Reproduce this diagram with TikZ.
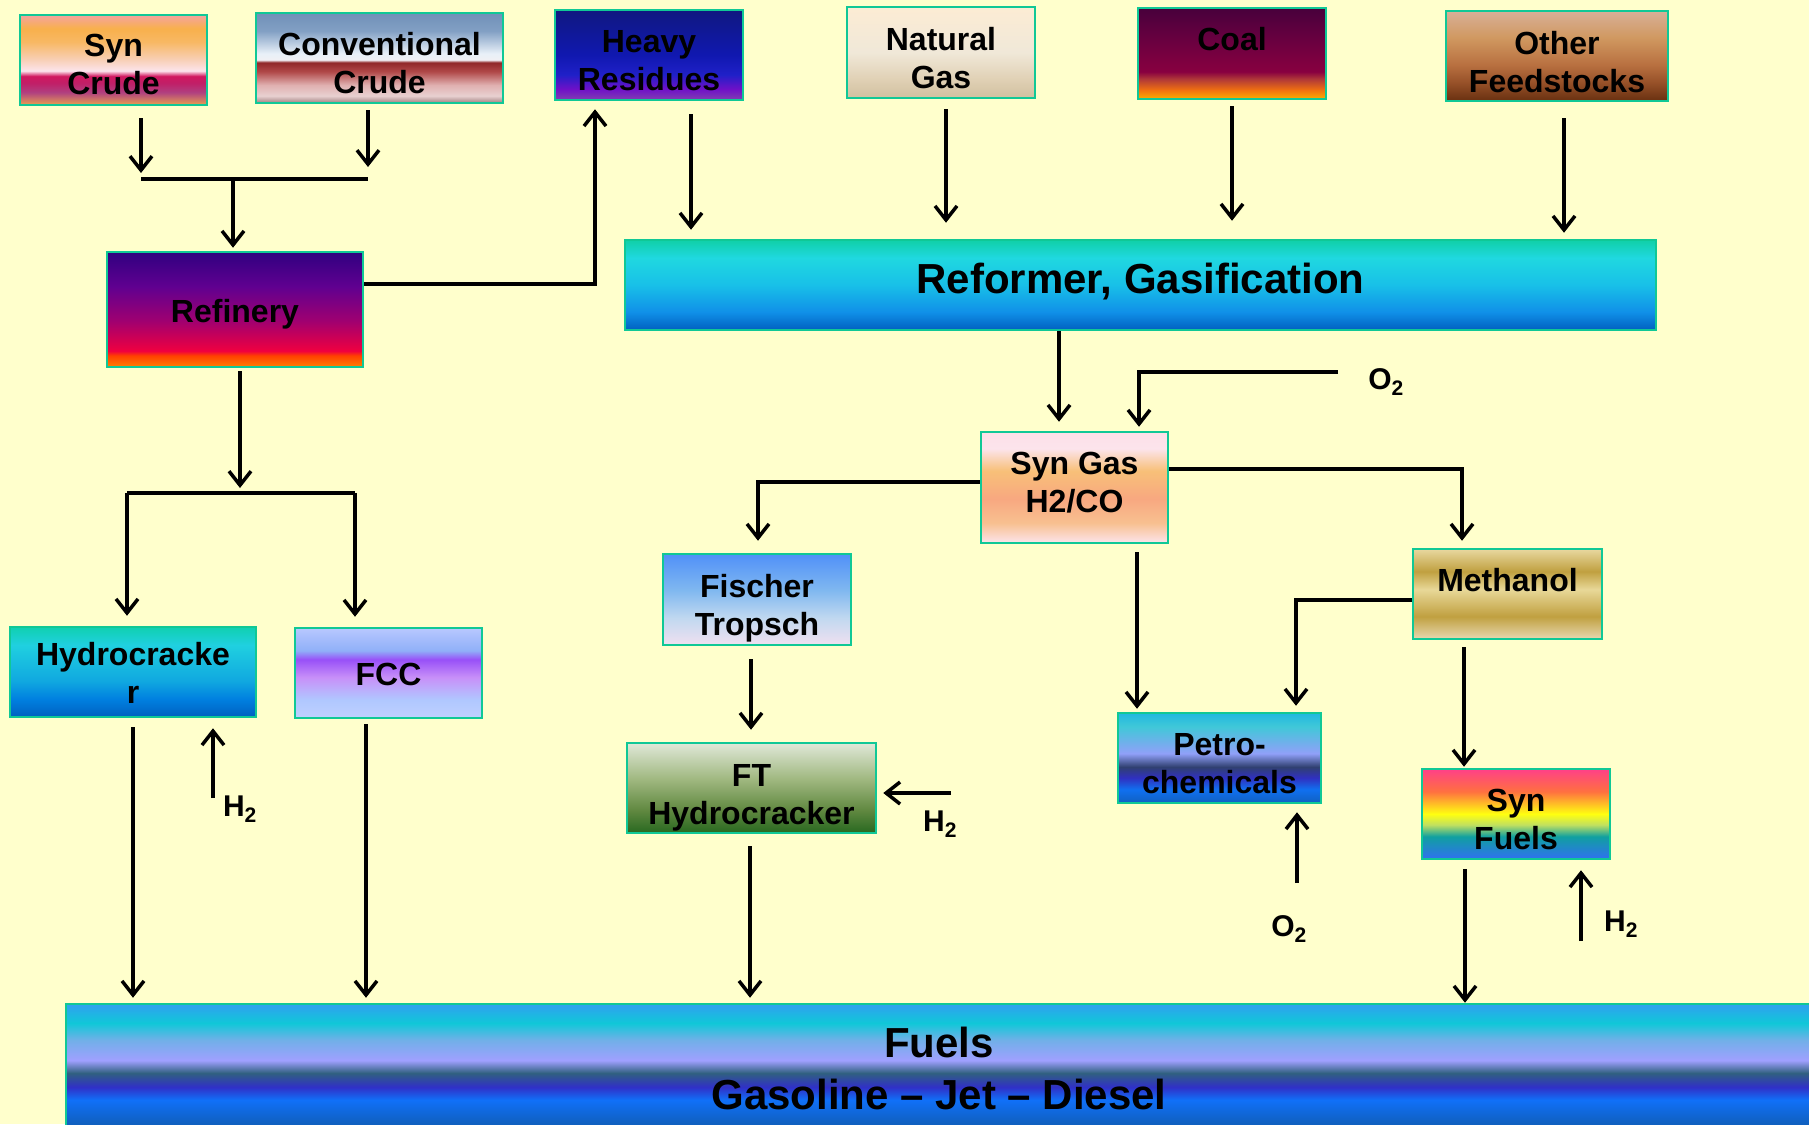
\documentclass[tikz,border=0pt]{standalone}
\usepackage{fontspec}
\setmainfont{Liberation Sans}
\usetikzlibrary{arrows.meta}
\definecolor{bord}{RGB}{16,200,150}
\definecolor{bgc}{RGB}{255,255,204}
\newcommand\bxfont{\fontsize{32}{38}\selectfont\bfseries}
\newcommand\bigfont{\fontsize{42}{50}\selectfont\bfseries}
\newcommand\fuelfont{\fontsize{42}{52}\selectfont\bfseries}
\newcommand\lblfont{\fontsize{30}{36}\selectfont\bfseries}
\pgfdeclareverticalshading{gSynCrude}{100bp}{rgb(0bp)=(.91,.627,.314); rgb(25bp)=(.91,.627,.314); rgb(32bp)=(.69,.251,.502); rgb(37bp)=(.753,.125,.408); rgb(41bp)=(.816,.094,.376); rgb(44bp)=(.988,.894,.925); rgb(50bp)=(.973,.816,.722); rgb(60bp)=(.973,.722,.392); rgb(67.5bp)=(.973,.69,.298); rgb(75bp)=(.957,.643,.627); rgb(100bp)=(.957,.643,.627)}
\pgfdeclareverticalshading{gConv}{100bp}{rgb(0bp)=(.627,.502,.502); rgb(25bp)=(.627,.502,.502); rgb(29bp)=(.91,.816,.816); rgb(35bp)=(.878,.69,.69); rgb(42.5bp)=(.69,.282,.282); rgb(47.5bp)=(.565,.157,.157); rgb(49bp)=(.941,.941,.957); rgb(52.5bp)=(.91,.941,.973); rgb(65bp)=(.51,.627,.769); rgb(75bp)=(.439,.565,.722); rgb(100bp)=(.439,.565,.722)}
\pgfdeclareverticalshading{gHeavy}{100bp}{rgb(0bp)=(.502,.251,.69); rgb(25bp)=(.502,.251,.69); rgb(31bp)=(.439,.063,.784); rgb(39bp)=(.125,.125,.784); rgb(50bp)=(.063,.094,.69); rgb(75bp)=(.063,.094,.502); rgb(100bp)=(.063,.094,.502)}
\pgfdeclareverticalshading{gNat}{100bp}{rgb(0bp)=(.816,.753,.627); rgb(25bp)=(.816,.753,.627); rgb(35bp)=(.878,.816,.706); rgb(50bp)=(.941,.91,.847); rgb(75bp)=(.988,.925,.831); rgb(100bp)=(.988,.925,.831)}
\pgfdeclareverticalshading{gCoal}{100bp}{rgb(0bp)=(.973,.69,0); rgb(25bp)=(.973,.69,0); rgb(30bp)=(.941,.439,.063); rgb(36bp)=(.69,.22,.22); rgb(40bp)=(.533,0,.251); rgb(55bp)=(.431,0,.251); rgb(75bp)=(.282,0,.235); rgb(100bp)=(.282,0,.235)}
\pgfdeclareverticalshading{gOther}{100bp}{rgb(0bp)=(.408,.188,.063); rgb(25bp)=(.408,.188,.063); rgb(35bp)=(.588,.314,.157); rgb(45bp)=(.722,.439,.251); rgb(60bp)=(.816,.596,.376); rgb(75bp)=(.847,.69,.596); rgb(100bp)=(.847,.69,.596)}
\pgfdeclareverticalshading{gReform}{100bp}{rgb(0bp)=(0,.376,.753); rgb(25bp)=(0,.376,.753); rgb(35bp)=(.063,.565,.91); rgb(50bp)=(.094,.753,.91); rgb(65bp)=(.125,.847,.878); rgb(75bp)=(.063,.816,.659); rgb(100bp)=(.063,.816,.659)}
\pgfdeclareverticalshading{gRefin}{100bp}{rgb(0bp)=(1,.502,0); rgb(25bp)=(1,.502,0); rgb(30bp)=(1,.251,0); rgb(32bp)=(.941,0,.251); rgb(45bp)=(.627,0,.439); rgb(60bp)=(.376,0,.565); rgb(75bp)=(.188,0,.502); rgb(100bp)=(.188,0,.502)}
\pgfdeclareverticalshading{gHydro}{100bp}{rgb(0bp)=(0,.376,.753); rgb(25bp)=(0,.376,.753); rgb(35bp)=(0,.502,.878); rgb(45bp)=(.063,.659,.878); rgb(65bp)=(.125,.816,.878); rgb(75bp)=(.063,.816,.69); rgb(100bp)=(.063,.816,.69)}
\pgfdeclareverticalshading{gFCC}{100bp}{rgb(0bp)=(.753,.816,1); rgb(25bp)=(.753,.816,1); rgb(35bp)=(.69,.784,1); rgb(47.5bp)=(.784,.565,.973); rgb(57.5bp)=(.596,.314,.973); rgb(62.5bp)=(.565,.69,.973); rgb(75bp)=(.722,.784,1); rgb(100bp)=(.722,.784,1)}
\pgfdeclareverticalshading{gFischer}{100bp}{rgb(0bp)=(.941,.878,.941); rgb(25bp)=(.941,.878,.941); rgb(40bp)=(.753,.847,.941); rgb(55bp)=(.502,.722,.941); rgb(75bp)=(.314,.565,.973); rgb(100bp)=(.314,.565,.973)}
\pgfdeclareverticalshading{gFT}{100bp}{rgb(0bp)=(.157,.408,.125); rgb(25bp)=(.157,.408,.125); rgb(37.5bp)=(.376,.533,.251); rgb(55bp)=(.627,.722,.502); rgb(75bp)=(.878,.91,.847); rgb(100bp)=(.878,.91,.847)}
\pgfdeclareverticalshading{gSynGas}{100bp}{rgb(0bp)=(.988,.894,.925); rgb(25bp)=(.988,.894,.925); rgb(34bp)=(.973,.753,.565); rgb(45bp)=(.973,.659,.502); rgb(57.5bp)=(.973,.753,.471); rgb(67.5bp)=(.988,.894,.925); rgb(75bp)=(.988,.878,.91); rgb(100bp)=(.988,.878,.91)}
\pgfdeclareverticalshading{gMeth}{100bp}{rgb(0bp)=(.91,.847,.69); rgb(25bp)=(.91,.847,.69); rgb(37.5bp)=(.753,.627,.251); rgb(52.5bp)=(.91,.847,.596); rgb(62.5bp)=(.753,.627,.251); rgb(75bp)=(.91,.847,.627); rgb(100bp)=(.91,.847,.627)}
\pgfdeclareverticalshading{gPetro}{100bp}{rgb(0bp)=(.063,.376,.753); rgb(25bp)=(.063,.376,.753); rgb(32.5bp)=(.063,.439,.941); rgb(39bp)=(.188,.188,.753); rgb(45bp)=(.188,.251,.439); rgb(52.5bp)=(.565,.627,.973); rgb(67.5bp)=(.251,.784,.847); rgb(75bp)=(.125,.722,.878); rgb(100bp)=(.125,.722,.878)}
\pgfdeclareverticalshading{gSynFuels}{100bp}{rgb(0bp)=(.188,.439,.941); rgb(25bp)=(.188,.439,.941); rgb(37.5bp)=(.063,.627,.627); rgb(44bp)=(.753,.878,.376); rgb(50bp)=(1,1,.063); rgb(62.5bp)=(1,.439,.251); rgb(75bp)=(1,.251,.533); rgb(100bp)=(1,.251,.533)}
\pgfdeclareverticalshading{gFuels}{100bp}{rgb(0bp)=(.063,.376,.753); rgb(25bp)=(.063,.376,.753); rgb(28.5bp)=(.063,.376,.753); rgb(37.5bp)=(.063,.439,.973); rgb(42.5bp)=(.188,.188,.784); rgb(48bp)=(.188,.376,.502); rgb(53bp)=(.627,.627,1); rgb(61bp)=(.439,.69,.91); rgb(67.5bp)=(.063,.784,.847); rgb(75bp)=(.188,.627,.941); rgb(100bp)=(.188,.627,.941)}
\tikzset{
  box/.style={draw=bord, line width=2.5pt, shade, inner sep=0pt},
  ln/.style={line width=3.5pt},
  arr/.style={line width=3.5pt, -{Straight Barb[length=14pt,width=22pt]}},
  lbl/.style={font=\lblfont, inner sep=0pt},
  btxt/.style={font=\bxfont, inner sep=0pt, align=center, text=black},
}
\begin{document}
\begin{tikzpicture}[x=1pt,y=-1pt]
\useasboundingbox (0,0) rectangle (1809,1124);
\fill[bgc] (0,0) rectangle (1809,1124);
\clip (0,0) rectangle (1809,1124);

% sources
\node[box, shading=gSynCrude, minimum width=187pt, minimum height=90pt] (synCrude) at (113.5,60) {};
\node[btxt] (synCrudeT) at (113.5,64.6) {Syn\\Crude};
\node[box, shading=gConv, minimum width=247pt, minimum height=90pt] (convCrude) at (379.5,58) {};
\node[btxt] (convCrudeT) at (379.5,63.2) {Conventional\\Crude};
\node[box, shading=gHeavy, minimum width=188pt, minimum height=90pt] (heavyRes) at (649,55) {};
\node[btxt] (heavyResT) at (649,60.8) {Heavy\\Residues};
\node[box, shading=gNat, minimum width=188pt, minimum height=91pt] (natGas) at (941,52.5) {};
\node[btxt] (natGasT) at (941,58.3) {Natural\\Gas};
\node[box, shading=gCoal, minimum width=188pt, minimum height=91pt] (coal) at (1232,53.5) {};
\node[btxt] (coalT) at (1232,38.8) {Coal};
\node[box, shading=gOther, minimum width=222pt, minimum height=90pt] (other) at (1557,56) {};
\node[btxt] (otherT) at (1557,61.8) {Other\\Feedstocks};

% main units
\node[box, shading=gReform, minimum width=1031pt, minimum height=90pt] (reformer) at (1140.5,285) {};
\node[btxt, font=\bigfont] (reformerT) at (1140.5,281.5) {Reformer, Gasification};
\node[box, shading=gRefin, minimum width=256pt, minimum height=115pt] (refinery) at (235,309.5) {};
\node[btxt] (refineryT) at (235,314.1) {Refinery};
\node[box, shading=gHydro, minimum width=246pt, minimum height=90pt] (hydro) at (133,672) {};
\node[btxt] (hydroT) at (133,673.2) {Hydrocracke\\r};
\node[box, shading=gFCC, minimum width=187pt, minimum height=90pt] (fcc) at (388.5,673) {};
\node[btxt] (fccT) at (388.5,674.2) {FCC};
\node[box, shading=gFischer, minimum width=188pt, minimum height=91pt] (fischer) at (757,599.5) {};
\node[btxt] (fischerT) at (757,608.7) {Fischer\\Tropsch};
\node[box, shading=gFT, minimum width=249pt, minimum height=90pt] (ftHydro) at (751.5,788) {};
\node[btxt] (ftHydroT) at (751.5,797.8) {FT\\Hydrocracker};
\node[box, shading=gSynGas, minimum width=187pt, minimum height=111pt] (synGas) at (1074.5,487.5) {};
\node[btxt] (synGasT) at (1074.5,482.9) {Syn Gas\\H2/CO};
\node[box, shading=gMeth, minimum width=189pt, minimum height=90pt] (methanol) at (1507.5,594) {};
\node[btxt] (methanolT) at (1507.5,580) {Methanol};
\node[box, shading=gPetro, minimum width=203pt, minimum height=90pt] (petro) at (1219.5,758) {};
\node[btxt] (petroT) at (1219.5,763.8) {Petro-\\chemicals};
\node[box, shading=gSynFuels, minimum width=188pt, minimum height=90pt] (synFuels) at (1516,814) {};
\node[btxt] (synFuelsT) at (1516,819.2) {Syn\\Fuels};
\node[box, shading=gFuels, minimum width=1746pt, minimum height=128pt] (fuels) at (939,1068) {};
\node[btxt, font=\fuelfont] (fuelsT) at (939,1068) {Fuels\\Gasoline -- Jet -- Diesel};

% labels
\node[lbl] (o2top) at (1386,382) {O\textsubscript{2}};
\node[lbl] (h2hydro) at (240,809) {H\textsubscript{2}};
\node[lbl] (h2ft) at (940,824) {H\textsubscript{2}};
\node[lbl] (o2petro) at (1289,929) {O\textsubscript{2}};
\node[lbl] (h2syn) at (1621,924) {H\textsubscript{2}};

% crude junction
\coordinate (jL) at (141,179);
\coordinate (jR) at (368,179);
\coordinate (jM) at (233,179);
\draw[arr, shorten <=12pt, shorten >=6pt] (synCrude.south -| jL) -- (jL);
\draw[arr, shorten <=6pt, shorten >=12pt] (convCrude.south -| jR) -- (jR);
\draw[ln] (jL) -- (jR);
\draw[arr, shorten >=3pt] (jM) -- (jM |- refinery.north);

% refinery to heavy residues
\coordinate (hrC) at (595,284);
\draw[arr, shorten >=8pt] ([yshift=25.5pt]refinery.east) -- (hrC) -- (hrC |- heavyRes.south);

% feeds into reformer
\draw[arr, shorten <=13pt, shorten >=9pt] ([xshift=42pt]heavyRes.south) -- ([xshift=42pt]heavyRes.south |- reformer.north);
\draw[arr, shorten <=10pt, shorten >=16pt] ([xshift=5pt]natGas.south) -- ([xshift=5pt]natGas.south |- reformer.north);
\draw[arr, shorten <=6pt, shorten >=18pt] (coal.south) -- (coal.south |- reformer.north);
\draw[arr, shorten <=16pt, shorten >=6pt] ([xshift=7pt]other.south) -- ([xshift=7pt]other.south |- reformer.north);

% reformer to syn gas
\draw[arr, shorten >=9pt] ([xshift=-15.5pt]synGas.north |- reformer.south) -- ([xshift=-15.5pt]synGas.north);
\coordinate (o2a) at (1338,372);
\coordinate (o2c) at (1139,372);
\draw[arr, shorten >=4pt] (o2a) -- (o2c) -- (o2c |- synGas.north);

% syn gas outputs
\coordinate (fsC) at (758,482);
\draw[arr, shorten >=12pt] ([yshift=5.5pt]synGas.west) -- (fsC) -- (fsC |- fischer.north);
\coordinate (meC) at (1462,469);
\draw[arr, shorten >=7pt] ([yshift=18.5pt]synGas.east) -- (meC) -- (meC |- methanol.north);
\draw[arr, shorten <=8pt, shorten >=3pt] ([xshift=62.5pt]synGas.south) -- ([xshift=62.5pt]synGas.south |- petro.north);

% methanol outputs
\coordinate (mpC) at (1296,600);
\draw[arr, shorten >=6pt] ([yshift=-6pt]methanol.west) -- (mpC) -- (mpC |- petro.north);
\draw[arr, shorten <=7pt, shorten >=1pt] ([xshift=-43.5pt]methanol.south) -- ([xshift=-43.5pt]methanol.south |- synFuels.north);

% O2 / H2 feeds
\coordinate (o2b) at (1297,883);
\draw[arr, shorten >=8pt] (o2b) -- (o2b |- petro.south);
\coordinate (h2s) at (1581,941);
\draw[arr, shorten >=10pt] (h2s) -- (h2s |- synFuels.south);
\coordinate (h2f) at (951,793);
\draw[arr, shorten >=6pt] (h2f) -- (h2f -| ftHydro.east);
\coordinate (h2h) at (213,798);
\draw[arr, shorten >=10pt] (h2h) -- (h2h |- hydro.south);

% Fischer chain
\draw[arr, shorten <=13pt, shorten >=12pt] ([xshift=-6pt]fischer.south) -- ([xshift=-6pt]fischer.south |- ftHydro.north);

% refinery split
\coordinate (kL) at (127,493);
\coordinate (kR) at (355,493);
\coordinate (kM) at (240,493);
\draw[arr, shorten <=3pt, shorten >=5pt] (refinery.south -| kM) -- (kM);
\draw[ln] (kL) -- (kR);
\draw[arr, shorten >=10pt] (kL) -- (kL |- hydro.north);
\draw[arr, shorten >=10pt] (kR) -- (kR |- fcc.north);

% into fuels
\draw[arr, shorten <=9pt, shorten >=5pt] (hydro.south) -- (hydro.south |- fuels.north);
\draw[arr, shorten <=5pt, shorten >=5pt] ([xshift=-22.5pt]fcc.south) -- ([xshift=-22.5pt]fcc.south |- fuels.north);
\draw[arr, shorten <=12pt, shorten >=5pt] ([xshift=-1.5pt]ftHydro.south) -- ([xshift=-1.5pt]ftHydro.south |- fuels.north);
\draw[arr, shorten <=9pt] ([xshift=-51pt]synFuels.south) -- ([xshift=-51pt]synFuels.south |- fuels.north);
\end{tikzpicture}
\end{document}
